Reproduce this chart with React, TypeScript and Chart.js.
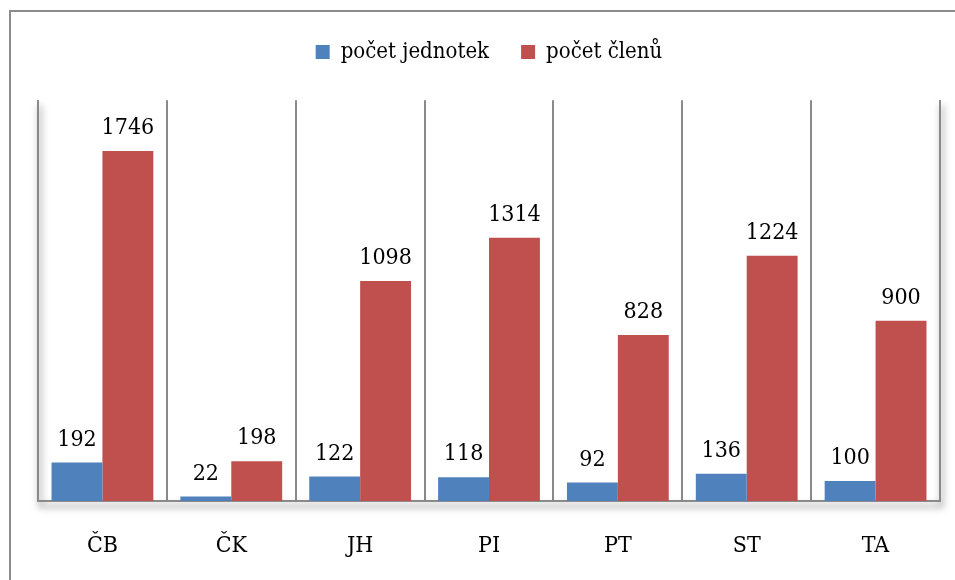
import React, { useEffect, useRef } from "react";
import { Chart, registerables } from "chart.js";

Chart.register(...registerables);

const categories = ["ČB", "ČK", "JH", "PI", "PT", "ST", "TA"];
const jednotek = [192, 22, 122, 118, 92, 136, 100];
const clenu = [1746, 198, 1098, 1314, 828, 1224, 900];
const seriesNames = ["počet jednotek", "počet členů"];

const FONT = "'DejaVu Serif Condensed', 'DejaVu Serif', serif";

const framePlugin = {
  id: "frame",
  beforeDraw(chart: any) {
    const ctx = chart.ctx;
    ctx.save();
    ctx.fillStyle = "#fff";
    ctx.fillRect(0, 0, chart.width, chart.height);
    ctx.strokeStyle = "#8c8c8c";
    ctx.lineWidth = 2;
    ctx.beginPath();
    ctx.moveTo(10, chart.height + 10);
    ctx.lineTo(10, 11);
    ctx.lineTo(chart.width + 10, 11);
    ctx.stroke();
    ctx.restore();
  },
  beforeDatasetsDraw(chart: any) {
    const ctx = chart.ctx;
    const a = chart.chartArea;
    ctx.save();
    ctx.strokeStyle = "#8a8a8a";
    ctx.lineWidth = 2;
    ctx.shadowColor = "rgba(0,0,0,0.55)";
    ctx.shadowBlur = 7;
    ctx.shadowOffsetX = 2;
    ctx.shadowOffsetY = 5;
    ctx.beginPath();
    ctx.moveTo(a.left, a.top);
    ctx.lineTo(a.left, a.bottom);
    ctx.lineTo(a.right, a.bottom);
    ctx.lineTo(a.right, a.top);
    ctx.stroke();
    ctx.restore();
  },
  afterDatasetsDraw(chart: any) {
    const ctx = chart.ctx;
    ctx.save();
    ctx.font = "23px " + FONT;
    ctx.fillStyle = "#000";
    ctx.textAlign = "center";
    ctx.textBaseline = "alphabetic";
    chart.data.datasets.forEach((ds: any, di: number) => {
      const meta = chart.getDatasetMeta(di);
      meta.data.forEach((el: any, i: number) => {
        ctx.fillText(String(ds.data[i]), el.x, el.y - 17);
      });
    });
    ctx.restore();
  },
};

export default function App() {
  const ref = useRef<HTMLCanvasElement>(null);
  useEffect(() => {
    if (!ref.current) return;
    const chart = new Chart(ref.current, {
      type: "bar",
      data: {
        labels: categories,
        datasets: [
          { label: seriesNames[0], data: jednotek, backgroundColor: "#4F81BD" },
          { label: seriesNames[1], data: clenu, backgroundColor: "#C0504D" },
        ],
      },
      options: {
        animation: false,
        responsive: false,
        devicePixelRatio: 1,
        layout: { padding: { left: 38, right: 15, top: 9, bottom: 21 } },
        datasets: { bar: { categoryPercentage: 0.79, barPercentage: 1 } },
        plugins: {
          legend: {
            position: "top",
            align: "center",
            labels: {
              boxWidth: 14,
              boxHeight: 14,
              padding: 32,
              color: "#000",
              font: { family: FONT, size: 22 },
            },
          },
          title: {
            display: true,
            text: " ",
            weight: 100,
            font: { size: 1 },
            padding: { top: 0, bottom: 26 },
          },
          tooltip: { enabled: false },
        },
        scales: {
          x: {
            offset: true,
            grid: {
              offset: true,
              display: true,
              color: "#8a8a8a",
              lineWidth: 2,
              drawTicks: false,
            },
            border: { display: false },
            ticks: {
              color: "#000",
              padding: 31,
              font: { family: FONT, size: 23 },
            },
            afterFit(scale: any) {
              scale.height = 58;
            },
          },
          y: {
            display: false,
            min: 0,
            max: 2000,
          },
        },
      },
      plugins: [framePlugin],
    });
    return () => chart.destroy();
  }, []);
  return (
    <div style={{ position: "absolute", left: 0, top: 0, width: 955, height: 580 }}>
      <canvas ref={ref} width={955} height={580} style={{ width: 955, height: 580 }} />
    </div>
  );
}
